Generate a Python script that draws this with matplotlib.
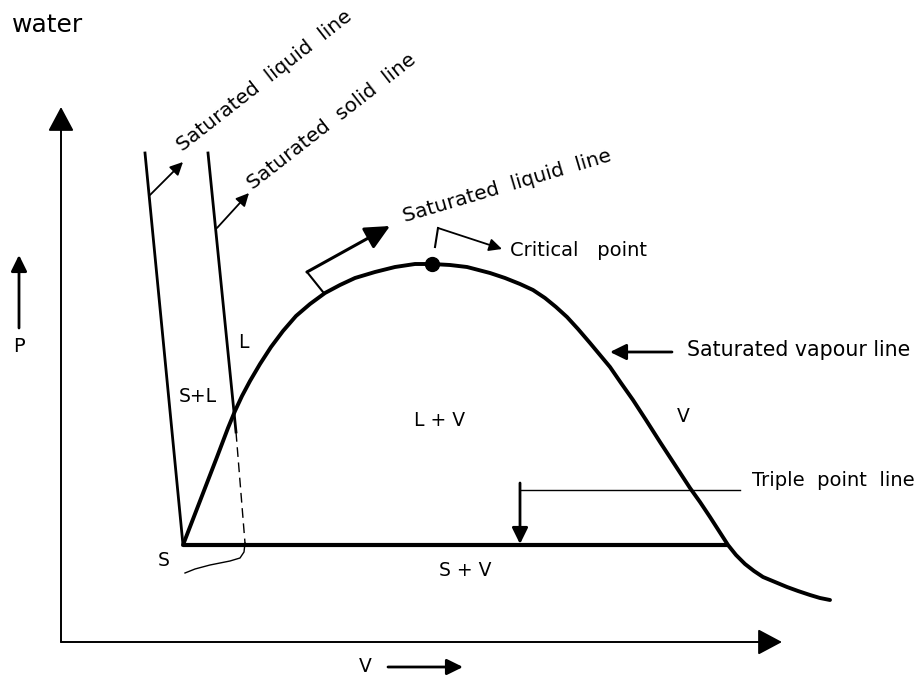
import matplotlib
matplotlib.use("Agg")
import matplotlib.pyplot as plt

plt.rcParams["font.family"] = ["DejaVu Sans"]

# diagram geometry (pixel coordinates, y downwards)
dome_x = [183, 200, 217, 228, 235, 242, 250, 260, 271, 283, 296, 310, 325, 340, 355,
          375, 395, 415, 432, 450, 467, 490, 505, 520, 533, 545, 556, 567, 578, 590,
          600, 610, 621, 633, 646, 660, 675, 690, 700, 710, 719, 728, 736, 745, 754,
          763, 775, 787, 798, 810, 820, 830]
dome_y = [545, 501, 457, 428, 411, 396, 381, 364, 347, 331, 316, 304, 293, 285, 278,
          272, 267, 264, 264, 265, 267, 273, 278, 284, 290, 298, 307, 317, 329, 343,
          355, 367, 383, 400, 420, 442, 465, 488, 502, 517, 531, 545, 555, 564, 571,
          577, 582, 587, 591, 595, 598, 600]

liquid_x = [145, 183]
liquid_y = [153, 545]

solid_x = [208, 236]
solid_y = [153, 432]
solid_dash_x = [236, 245]
solid_dash_y = [432, 543]
tail_x = [245, 244, 240, 230, 210, 195, 185]
tail_y = [543, 552, 558, 561, 565, 569, 573]

triple_x = [183, 728]
triple_y = [545, 545]

critical_point = (432, 264)

# arrows: (tail, head)
axis_arrows = [((61, 642), (61, 107)), ((61, 642), (782, 642))]
thin_arrows = [
    ((150, 195), (183, 162)),
    ((217, 228), (249, 193)),
    ((438, 228), (502, 249)),
]
bold_arrows = [
    ((520, 483), (520, 544)),
    ((672, 352), (610, 352)),
    ((19, 328), (19, 255)),
    ((388, 667), (463, 667)),
]
big_arrow = ((307, 272), (390, 226))

brackets = [([307, 323], [272, 292]), ([435, 438], [247, 228])]
triple_lead_x = [520, 740]
triple_lead_y = [490, 490]

region_labels = ["L", "S+L", "L + V", "V", "S", "S + V", "V"]
region_pos = [(243, 343), (198, 397), (440, 420), (683, 417), (164, 560), (465, 571),
              (365, 666)]

side_labels = ["Critical   point", "Saturated vapour line", "Triple  point  line"]
side_pos = [(510, 250), (687, 350), (752, 480)]
side_size = [14, 14.8, 14]

rot_labels = ["Saturated  liquid  line", "Saturated  solid  line", "Saturated  liquid  line"]
rot_pos = [(183, 152), (253, 190), (405, 222)]
rot_angle = [38, 38, 16.5]

fig = plt.figure(figsize=(9.17, 6.77), dpi=100)
ax = fig.add_axes([0, 0, 1, 1])
ax.set_xlim(0, 917)
ax.set_ylim(677, 0)
ax.axis("off")

ax.plot(dome_x, dome_y, color="black", lw=2.8, solid_joinstyle="round", solid_capstyle="round")
ax.plot(liquid_x, liquid_y, color="black", lw=2.0)
ax.plot(solid_x, solid_y, color="black", lw=2.0)
ax.plot(solid_dash_x, solid_dash_y, color="black", lw=1.0, dashes=(7, 4))
ax.plot(tail_x, tail_y, color="black", lw=1.0)
ax.plot(triple_x, triple_y, color="black", lw=3.0, solid_capstyle="butt")
ax.plot(*critical_point, "o", color="black", markersize=10)

for bx, by in brackets:
    ax.plot(bx, by, color="black", lw=1.5)
ax.plot(triple_lead_x, triple_lead_y, color="black", lw=1.0)

for tail, head in axis_arrows:
    ax.annotate("", xy=head, xytext=tail,
                arrowprops=dict(arrowstyle="-|>,head_length=0.75,head_width=0.4",
                                mutation_scale=20, lw=1.4, color="black",
                                shrinkA=0, shrinkB=0))

for tail, head in thin_arrows:
    ax.annotate("", xy=head, xytext=tail,
                arrowprops=dict(arrowstyle="-|>,head_length=0.55,head_width=0.27",
                                mutation_scale=14, lw=1.3, color="black",
                                shrinkA=0, shrinkB=0))

for tail, head in bold_arrows:
    ax.annotate("", xy=head, xytext=tail,
                arrowprops=dict(arrowstyle="-|>,head_length=0.65,head_width=0.32",
                                mutation_scale=15, lw=2.0, color="black",
                                shrinkA=0, shrinkB=0))

ax.annotate("", xy=big_arrow[1], xytext=big_arrow[0],
            arrowprops=dict(arrowstyle="-|>,head_length=0.75,head_width=0.36",
                            mutation_scale=20, lw=2.2, color="black",
                            shrinkA=0, shrinkB=0))

for txt, (x, y) in zip(region_labels, region_pos):
    ax.text(x, y, txt, ha="center", va="center", fontsize=13.5)

ax.text(19, 346, "P", ha="center", va="center", fontsize=14)

for txt, (x, y), fs in zip(side_labels, side_pos, side_size):
    ax.text(x, y, txt, ha="left", va="center", fontsize=fs)

for txt, (x, y), ang in zip(rot_labels, rot_pos, rot_angle):
    ax.text(x, y, txt, ha="left", va="baseline", rotation=ang,
            rotation_mode="anchor", fontsize=14.5)

ax.text(12, 25, "water", ha="left", va="center", fontsize=18)

fig.savefig("out.png", dpi=100)
